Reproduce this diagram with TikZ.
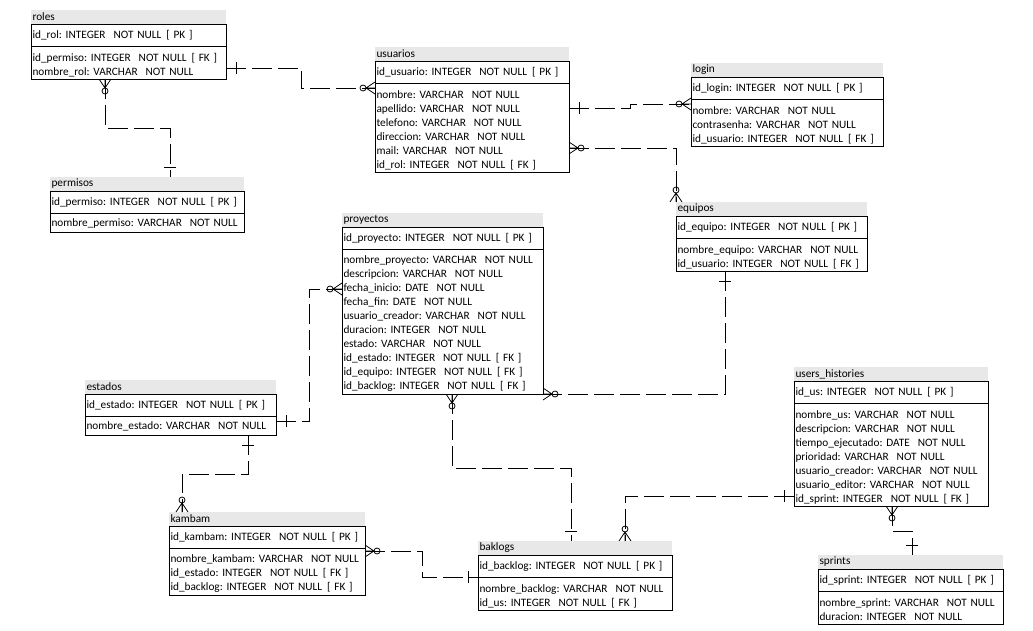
\documentclass[tikz,border=0pt]{standalone}
\usepackage{fontspec}
\setmainfont{Carlito}
\frenchspacing
\newcommand{\notnull}{\hspace{8pt}NOT NULL}
\newcommand{\clavep}{\hspace{5pt}[ PK ]}
\newcommand{\clavef}{\hspace{5pt}[ FK ]}
\newcommand{\finbloque}{\endgraf\vspace{-5pt}}
\definecolor{gris}{HTML}{E8E8E8}

\begin{document}
\begin{tikzpicture}[x=1pt, y=-1pt, line width=0.8pt,
  font=\fontsize{11.3}{14}\selectfont,
  cabecera/.style={anchor=north west, fill=gris, minimum height=14pt, inner ysep=0pt, inner xsep=1.5pt, outer sep=0pt, align=left},
  clave/.style={anchor=north west, draw, minimum height=22pt, inner ysep=0pt, inner xsep=1.5pt, outer sep=0pt, align=left},
  campos/.style={clave, minimum height=#1, execute at end node=\finbloque},
  relacion/.style={draw, dash pattern=on 20pt off 6pt},
  uno/.pic={\draw[solid] (-10,-6) -- (-10,6);},
  muchos/.pic={\draw[solid] (0,-6) -- (-9,0) -- (0,6) (0,0) -- (-9,0); \draw[solid] (-12,0) circle (3pt);}]
\useasboundingbox (0,0) rectangle (1033,631);

% roles
\node[cabecera, text width=192pt] (roles-h) at (31,10) {roles};
\node[clave, text width=192pt] (roles-pk) at (roles-h.south west) {id\_rol: INTEGER\notnull\clavep};
\node[campos=33pt, text width=192pt] (roles) at (roles-pk.south west) {id\_permiso: INTEGER\notnull\clavef\\nombre\_rol: VARCHAR\notnull};

% permisos
\node[cabecera, text width=191pt] (permisos-h) at (50,177) {permisos};
\node[clave, text width=191pt] (permisos-pk) at (permisos-h.south west) {id\_permiso: INTEGER\notnull\clavep};
\node[campos=19pt, text width=191pt] (permisos) at (permisos-pk.south west) {nombre\_permiso: VARCHAR\notnull};

% usuarios
\node[cabecera, text width=191pt] (usuarios-h) at (375,47) {usuarios};
\node[clave, text width=191pt] (usuarios-pk) at (usuarios-h.south west) {id\_usuario: INTEGER\notnull\clavep};
\node[campos=89pt, text width=191pt] (usuarios) at (usuarios-pk.south west) {nombre: VARCHAR\notnull\\apellido: VARCHAR\notnull\\telefono: VARCHAR\notnull\\direccion: VARCHAR\notnull\\mail: VARCHAR\notnull\\id\_rol: INTEGER\notnull\clavef};

% login
\node[cabecera, text width=189pt] (login-h) at (691,63) {login};
\node[clave, text width=189pt] (login-pk) at (login-h.south west) {id\_login: INTEGER\notnull\clavep};
\node[campos=47pt, text width=189pt] (login) at (login-pk.south west) {nombre: VARCHAR\notnull\\contrasenha: VARCHAR\notnull\\id\_usuario: INTEGER\notnull\clavef};

% equipos
\node[cabecera, text width=188pt] (equipos-h) at (676,202) {equipos};
\node[clave, text width=188pt] (equipos-pk) at (equipos-h.south west) {id\_equipo: INTEGER\notnull\clavep};
\node[campos=33pt, text width=188pt] (equipos) at (equipos-pk.south west) {nombre\_equipo: VARCHAR\notnull\\id\_usuario: INTEGER\notnull\clavef};

% proyectos
\node[cabecera, text width=198pt] (proyectos-h) at (342,213) {proyectos};
\node[clave, text width=198pt] (proyectos-pk) at (proyectos-h.south west) {id\_proyecto: INTEGER\notnull\clavep};
\node[campos=145pt, text width=198pt] (proyectos) at (proyectos-pk.south west) {nombre\_proyecto: VARCHAR\notnull\\descripcion: VARCHAR\notnull\\fecha\_inicio: DATE\notnull\\fecha\_fin: DATE\notnull\\usuario\_creador: VARCHAR\notnull\\duracion: INTEGER\notnull\\estado: VARCHAR\notnull\\id\_estado: INTEGER\notnull\clavef\\id\_equipo: INTEGER\notnull\clavef\\id\_backlog: INTEGER\notnull\clavef};

% estados
\node[cabecera, text width=188pt] (estados-h) at (85,380) {estados};
\node[clave, text width=188pt] (estados-pk) at (estados-h.south west) {id\_estado: INTEGER\notnull\clavep};
\node[campos=19pt, text width=188pt] (estados) at (estados-pk.south west) {nombre\_estado: VARCHAR\notnull};

% kambam
\node[cabecera, text width=193pt] (kambam-h) at (169,512) {kambam};
\node[clave, text width=193pt] (kambam-pk) at (kambam-h.south west) {id\_kambam: INTEGER\notnull\clavep};
\node[campos=47pt, text width=193pt] (kambam) at (kambam-pk.south west) {nombre\_kambam: VARCHAR\notnull\\id\_estado: INTEGER\notnull\clavef\\id\_backlog: INTEGER\notnull\clavef};

% baklogs
\node[cabecera, text width=191pt] (baklogs-h) at (478,541) {baklogs};
\node[clave, text width=191pt] (baklogs-pk) at (baklogs-h.south west) {id\_backlog: INTEGER\notnull\clavep};
\node[campos=33pt, text width=191pt] (baklogs) at (baklogs-pk.south west) {nombre\_backlog: VARCHAR\notnull\\id\_us: INTEGER\notnull\clavef};

% users_histories
\node[cabecera, text width=191pt] (historias-h) at (794,367) {users\_histories};
\node[clave, text width=191pt] (historias-pk) at (historias-h.south west) {id\_us: INTEGER\notnull\clavep};
\node[campos=103pt, text width=191pt] (historias) at (historias-pk.south west) {nombre\_us: VARCHAR\notnull\\descripcion: VARCHAR\notnull\\tiempo\_ejecutado: DATE\notnull\\prioridad: VARCHAR\notnull\\usuario\_creador: VARCHAR\notnull\\usuario\_editor: VARCHAR\notnull\\id\_sprint: INTEGER\notnull\clavef};

% sprints
\node[cabecera, text width=182pt] (sprints-h) at (818,555) {sprints};
\node[clave, text width=182pt] (sprints-pk) at (sprints-h.south west) {id\_sprint: INTEGER\notnull\clavep};
\node[campos=33pt, text width=182pt] (sprints) at (sprints-pk.south west) {nombre\_sprint: VARCHAR\notnull\\duracion: INTEGER\notnull};

% relaciones
\draw[relacion] (roles.east |- 0,68) pic[rotate=180]{uno} -- (301,68) |- (usuarios.west |- 0,88) pic{muchos};
\draw[relacion] (roles.south -| 105,0) pic[rotate=90]{muchos} -- (105,128) -| (permisos-h.north -| 170,0) pic[rotate=-90]{uno};
\draw[relacion] (usuarios.east |- 0,108) pic[rotate=180]{uno} -- (630,108) -- (630,104) -- (login.west |- 0,104) pic{muchos};
\draw[relacion] (usuarios.east |- 0,148) pic[rotate=180]{muchos} -| (equipos-h.north west) pic[rotate=-90]{muchos};
\draw[relacion] (equipos.south -| 725,0) pic[rotate=90]{uno} |- (proyectos.south east) pic[rotate=180]{muchos};
\draw[relacion] (estados.east |- 0,421) pic[rotate=180]{uno} -- (309,421) |- (proyectos.west |- 0,289) pic{muchos};
\draw[relacion] (estados.south -| 248,0) pic[rotate=90]{uno} -- (248,474) -| (kambam-h.north -| 182,0) pic[rotate=-90]{muchos};
\draw[relacion] (kambam.east |- 0,551) pic[rotate=180]{muchos} -- (422,551) |- (baklogs.north west) pic{uno};
\draw[relacion] (proyectos.south -| 452,0) pic[rotate=90]{muchos} -- (452,468) -| (baklogs-h.north -| 571,0) pic[rotate=-90]{uno};
\draw[relacion] (historias.west |- 0,496) pic{uno} -| (baklogs-h.north -| 625,0) pic[rotate=-90]{muchos};
\draw[relacion] (historias.south -| 892,0) pic[rotate=90]{muchos} -- (892,531) -| (sprints-h.north -| 912,0) pic[rotate=-90]{uno};

\end{tikzpicture}
\end{document}
